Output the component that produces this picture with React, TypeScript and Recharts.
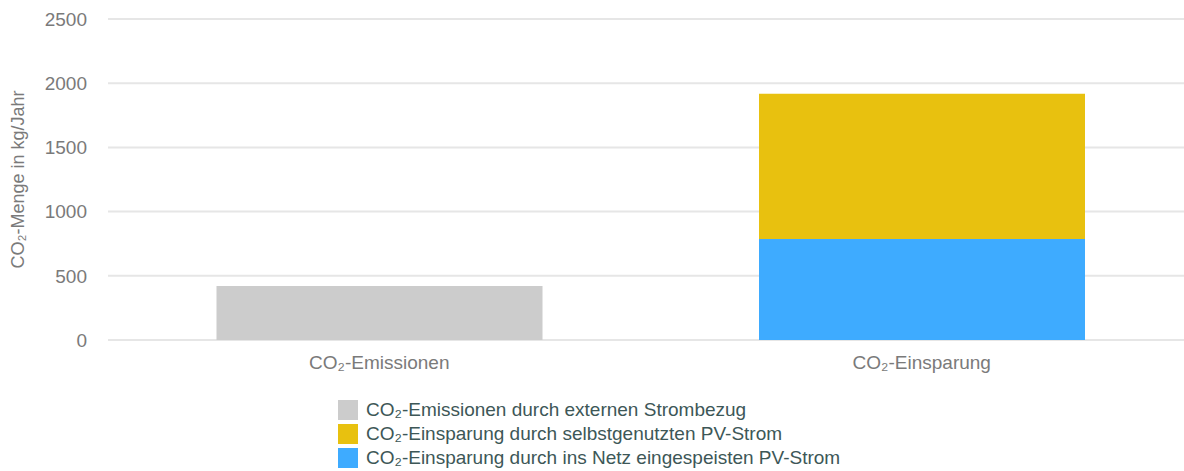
// Dependencies
import { BarChart, Bar, XAxis, YAxis, CartesianGrid } from 'recharts';

// Data
const categories = ['CO₂-Emissionen', 'CO₂-Einsparung'];
const externValues = [420, 0];
const eigenValues = [0, 1130];
const netzValues = [0, 787];
const yTicks = [0, 500, 1000, 1500, 2000, 2500];

const seriesNames = [
  'CO₂-Emissionen durch externen Strombezug',
  'CO₂-Einsparung durch selbstgenutzten PV-Strom',
  'CO₂-Einsparung durch ins Netz eingespeisten PV-Strom',
];
const seriesColors = ['#cccccc', '#e8c10f', '#3eabff'];

const chartData = categories.map((name, i) => ({
  name,
  extern: externValues[i],
  netz: netzValues[i],
  eigen: eigenValues[i],
}));

const font = '"Liberation Sans", Arial, sans-serif';

const App = () => {
  return (
    <div
      style={{
        position: 'absolute',
        left: 0,
        top: 0,
        width: 1184,
        height: 471,
        overflow: 'hidden',
        fontFamily: font,
        background: '#fff',
      }}
    >
      <BarChart
        width={1193}
        height={471}
        data={chartData}
        margin={{ top: 19, right: 0, bottom: 91, left: 0 }}
        barCategoryGap="20%"
      >
        <CartesianGrid vertical={false} stroke="#e6e6e6" strokeWidth={2} />
        <XAxis
          dataKey="name"
          axisLine={false}
          tickLine={false}
          tickSize={0}
          tickMargin={16}
          height={40}
          tick={{ fill: '#7a7a7a', fontSize: 19, fontFamily: font }}
        />
        <YAxis
          width={108}
          domain={[0, 2500]}
          ticks={yTicks}
          axisLine={false}
          tickLine={false}
          tickSize={0}
          tickMargin={21}
          tick={{ fill: '#7a7a7a', fontSize: 19, fontFamily: font }}
          label={{
            value: 'CO₂-Menge in kg/Jahr',
            angle: -90,
            position: 'insideLeft',
            offset: 18,
            fill: '#7a7a7a',
            fontSize: 18,
            fontFamily: font,
            style: { textAnchor: 'middle' },
          }}
        />
        <Bar dataKey="extern" stackId="a" fill={seriesColors[0]} isAnimationActive={false} />
        <Bar dataKey="netz" stackId="a" fill={seriesColors[2]} isAnimationActive={false} />
        <Bar dataKey="eigen" stackId="a" fill={seriesColors[1]} isAnimationActive={false} />
      </BarChart>
      <div style={{ position: 'absolute', left: 338, top: 398 }}>
        {seriesNames.map((n, i) => (
          <div
            key={n}
            style={{ display: 'flex', alignItems: 'center', height: 24, color: '#3d5757', fontSize: 19 }}
          >
            <span
              style={{ width: 20, height: 20, background: seriesColors[i], marginRight: 8, display: 'inline-block' }}
            />
            {n}
          </div>
        ))}
      </div>
    </div>
  );
};

export default App;
